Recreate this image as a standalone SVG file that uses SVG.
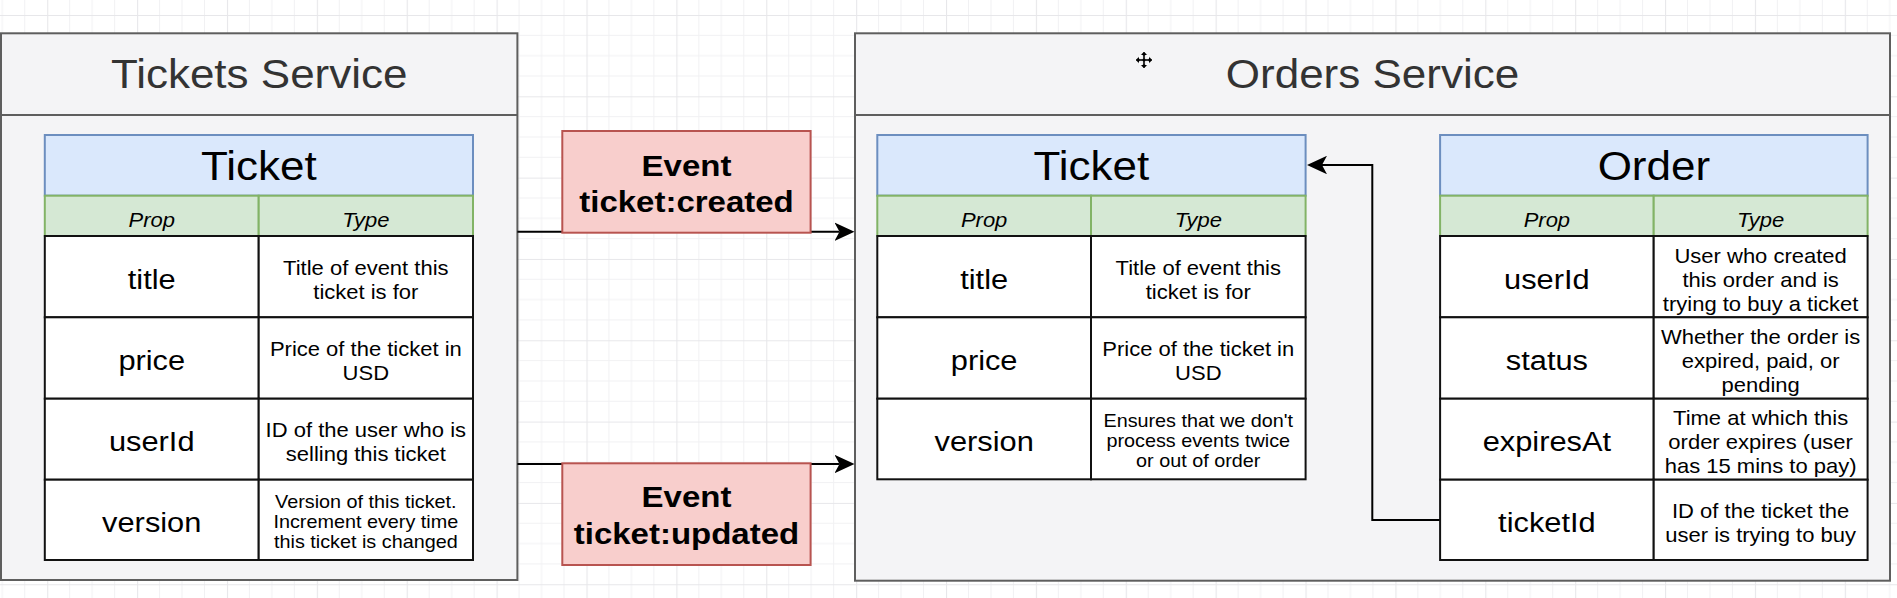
<svg xmlns="http://www.w3.org/2000/svg" width="1897" height="598" viewBox="0 0 1897 598">
<style>
text{font-family:"Liberation Sans",Arial,Helvetica,sans-serif;text-anchor:middle;fill:#000;transform-box:fill-box;transform-origin:center;transform:scaleX(1.1)}
.svc{fill:#f4f4f6;stroke:#5e5e5e;stroke-width:2}
.svct{font-size:40px;fill:#333}
.ttl{fill:#dae8fc;stroke:#6c8ebf;stroke-width:2}
.hdr{fill:#d5e8d4;stroke:#82b366;stroke-width:2}
.cell{fill:#fff;stroke:#111;stroke-width:2}
.tt{font-size:40px}
.h{font-size:20px;font-style:italic}
.p{font-size:28px}
.d{font-size:20px}
.ds{font-size:18px}
.ev{fill:#f8cecc;stroke:#b85450;stroke-width:2}
.evt{font-size:30px;font-weight:bold}
.con{fill:none;stroke:#000;stroke-width:2}
</style>
<defs>
<pattern id="grid" patternUnits="userSpaceOnUse" x="47.2" y="15" width="89.88" height="81.32">
<path d="M22.47,0V81.32M44.94,0V81.32M67.41,0V81.32M0,20.33H89.88M0,40.66H89.88M0,60.99H89.88" stroke="#f1f1f3" stroke-width="1" fill="none"/>
<path d="M0.5,0V81.32M0,0.5H89.88" stroke="#e7e7ea" stroke-width="1.2" fill="none"/>
</pattern>
<marker id="arr" markerUnits="userSpaceOnUse" viewBox="0 0 20 18.5" refX="5" refY="9.25" markerWidth="20" markerHeight="18.5" orient="auto">
<path d="M0,0 L20,9.25 L0,18.5 L5,9.25 Z" fill="#000"/>
</marker>
</defs>
<rect width="1897" height="598" fill="#fff"/>
<rect width="1897" height="598" fill="url(#grid)"/>

<g id="tickets-service">
<rect class="svc" x="1" y="33.3" width="516.4" height="546.7"/>
<line x1="1" y1="115" x2="517.4" y2="115" stroke="#5e5e5e" stroke-width="2"/>
<text class="svct" x="259.2" y="88.3">Tickets Service</text>
</g>

<g id="orders-service">
<rect class="svc" x="855" y="33.3" width="1035" height="547.4"/>
<line x1="855" y1="115" x2="1890" y2="115" stroke="#5e5e5e" stroke-width="2"/>
<text class="svct" x="1372.5" y="88.3">Orders Service</text>
</g>

<g id="connectors">
<line class="con" x1="517.4" y1="231.7" x2="839.5" y2="231.7" marker-end="url(#arr)"/>
<line class="con" x1="517.4" y1="464" x2="839.5" y2="464" marker-end="url(#arr)"/>
<path class="con" d="M1440.1,520 H1372.3 V165 H1322" marker-end="url(#arr)"/>
</g>

<g id="event-created">
<rect class="ev" x="562.3" y="131" width="248.3" height="101.7"/>
<text class="evt" x="686.5" y="175.7">Event</text>
<text class="evt" x="686.5" y="212.3">ticket:created</text>
</g>

<g id="event-updated">
<rect class="ev" x="562.3" y="463.3" width="248.3" height="101.7"/>
<text class="evt" x="686.5" y="507.3">Event</text>
<text class="evt" x="686.5" y="544.3">ticket:updated</text>
</g>

<g id="tickets-ticket-table">
<rect class="ttl" x="44.8" y="135" width="428.2" height="60.7"/>
<text class="tt" x="258.9" y="180">Ticket</text>
<rect class="hdr" x="44.8" y="195.7" width="213.9" height="40.3"/>
<rect class="hdr" x="258.7" y="195.7" width="214.3" height="40.3"/>
<text class="h" x="151.75" y="226.7">Prop</text>
<text class="h" x="365.85" y="226.7">Type</text>
<rect class="cell" x="44.8" y="236" width="213.9" height="81.3"/>
<rect class="cell" x="258.7" y="236" width="214.3" height="81.3"/>
<rect class="cell" x="44.8" y="317.3" width="213.9" height="81.4"/>
<rect class="cell" x="258.7" y="317.3" width="214.3" height="81.4"/>
<rect class="cell" x="44.8" y="398.7" width="213.9" height="81"/>
<rect class="cell" x="258.7" y="398.7" width="214.3" height="81"/>
<rect class="cell" x="44.8" y="479.7" width="213.9" height="80.3"/>
<rect class="cell" x="258.7" y="479.7" width="214.3" height="80.3"/>
<text class="p" x="151.75" y="288.7">title</text>
<text class="p" x="151.75" y="370">price</text>
<text class="p" x="151.75" y="451.2">userId</text>
<text class="p" x="151.75" y="531.9">version</text>
<text class="d" x="365.85" y="274.7">Title of event this<tspan x="365.85" dy="24">ticket is for</tspan></text>
<text class="d" x="365.85" y="356">Price of the ticket in<tspan x="365.85" dy="24">USD</tspan></text>
<text class="d" x="365.85" y="437.2">ID of the user who is<tspan x="365.85" dy="24">selling this ticket</tspan></text>
<text class="ds" x="365.85" y="507.85">Version of this ticket.<tspan x="365.85" dy="20">Increment every time</tspan><tspan x="365.85" dy="20">this ticket is changed</tspan></text>
</g>

<g id="orders-ticket-table">
<rect class="ttl" x="877.3" y="135" width="428.3" height="60.7"/>
<text class="tt" x="1091.4" y="180">Ticket</text>
<rect class="hdr" x="877.3" y="195.7" width="213.7" height="40.3"/>
<rect class="hdr" x="1091" y="195.7" width="214.6" height="40.3"/>
<text class="h" x="984.15" y="226.7">Prop</text>
<text class="h" x="1198.3" y="226.7">Type</text>
<rect class="cell" x="877.3" y="236" width="213.7" height="81.3"/>
<rect class="cell" x="1091" y="236" width="214.6" height="81.3"/>
<rect class="cell" x="877.3" y="317.3" width="213.7" height="81.4"/>
<rect class="cell" x="1091" y="317.3" width="214.6" height="81.4"/>
<rect class="cell" x="877.3" y="398.7" width="213.7" height="80.6"/>
<rect class="cell" x="1091" y="398.7" width="214.6" height="80.6"/>
<text class="p" x="984.15" y="288.7">title</text>
<text class="p" x="984.15" y="370">price</text>
<text class="p" x="984.15" y="451.2">version</text>
<text class="d" x="1198.3" y="274.7">Title of event this<tspan x="1198.3" dy="24">ticket is for</tspan></text>
<text class="d" x="1198.3" y="356">Price of the ticket in<tspan x="1198.3" dy="24">USD</tspan></text>
<text class="ds" x="1198.3" y="427.2">Ensures that we don't<tspan x="1198.3" dy="20">process events twice</tspan><tspan x="1198.3" dy="20">or out of order</tspan></text>
</g>

<g id="order-table">
<rect class="ttl" x="1440.1" y="135" width="427.5" height="60.7"/>
<text class="tt" x="1653.85" y="180">Order</text>
<rect class="hdr" x="1440.1" y="195.7" width="213.6" height="40.3"/>
<rect class="hdr" x="1653.7" y="195.7" width="213.9" height="40.3"/>
<text class="h" x="1546.9" y="226.7">Prop</text>
<text class="h" x="1760.65" y="226.7">Type</text>
<rect class="cell" x="1440.1" y="236" width="213.6" height="81.3"/>
<rect class="cell" x="1653.7" y="236" width="213.9" height="81.3"/>
<rect class="cell" x="1440.1" y="317.3" width="213.6" height="81.4"/>
<rect class="cell" x="1653.7" y="317.3" width="213.9" height="81.4"/>
<rect class="cell" x="1440.1" y="398.7" width="213.6" height="81"/>
<rect class="cell" x="1653.7" y="398.7" width="213.9" height="81"/>
<rect class="cell" x="1440.1" y="479.7" width="213.6" height="80.3"/>
<rect class="cell" x="1653.7" y="479.7" width="213.9" height="80.3"/>
<text class="p" x="1546.9" y="288.7">userId</text>
<text class="p" x="1546.9" y="370">status</text>
<text class="p" x="1546.9" y="451.2">expiresAt</text>
<text class="p" x="1546.9" y="531.9">ticketId</text>
<text class="d" x="1760.65" y="262.7">User who created<tspan x="1760.65" dy="24">this order and is</tspan><tspan x="1760.65" dy="24">trying to buy a ticket</tspan></text>
<text class="d" x="1760.65" y="344">Whether the order is<tspan x="1760.65" dy="24">expired, paid, or</tspan><tspan x="1760.65" dy="24">pending</tspan></text>
<text class="d" x="1760.65" y="425.2">Time at which this<tspan x="1760.65" dy="24">order expires (user</tspan><tspan x="1760.65" dy="24">has 15 mins to pay)</tspan></text>
<text class="d" x="1760.65" y="517.85">ID of the ticket the<tspan x="1760.65" dy="24">user is trying to buy</tspan></text>
</g>

<g id="cursor">
<path d="M1144,51 L1148,55.5 H1145.3 V58.7 H1148.5 V56 L1153,60 L1148.5,64 V61.3 H1145.3 V64.5 H1148 L1144,69 L1140,64.5 H1142.7 V61.3 H1139.5 V64 L1135,60 L1139.5,56 V58.7 H1142.7 V55.5 H1140 Z" fill="#000" stroke="#fff" stroke-width="1"/>
</g>
</svg>
